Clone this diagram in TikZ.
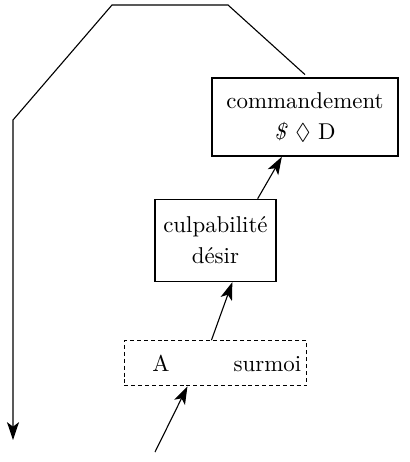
\documentclass[tikz,border=0pt]{standalone}
\usepackage{amssymb}
\usetikzlibrary{arrows.meta,positioning}

\begin{document}
\begin{tikzpicture}[
  x=0.45pt,y=-0.45pt,
  every node/.style={align=center,font={\fontsize{10.3}{14}\selectfont}},
  box/.style={draw,line width=0.65pt,inner sep=0pt},
  dashbox/.style={draw,line width=0.5pt,inner sep=0pt,
    dash pattern=on 1.8pt off 1.3pt},
  pointer/.style={-{Stealth[length=8pt,width=5.4pt,inset=2pt]},line width=0.5pt}
]
  \useasboundingbox (0,0) rectangle (409,462);

  \node[box,minimum width=83.7pt,minimum height=35.1pt] (comm) at (305,117)
    {commandement\\\textit{\$} $\lozenge$ D};
  \node[box,minimum width=54.5pt,minimum height=36.9pt,
    below=18.9pt of comm,xshift=-40.3pt] (culp) {culpabilité\\désir};
  \node[dashbox,minimum width=81.9pt,minimum height=20.3pt,
    below=26.1pt of culp] (moi) {\hspace{1em}A\hspace{2.8em}surmoi};

  % the long way round
  \coordinate (topr) at (228,5);
  \coordinate (topl) at (112,5);
  \coordinate (bend) at (13,120);
  \coordinate (down) at (13,440);
  \coordinate (src) at (155,452);
  \draw[pointer] ([yshift=1.2pt]comm.north) -- (topr) -- (topl) -- (bend) -- (down);

  \draw[pointer] (src) -- ([xshift=-12.6pt]moi.south);
  \draw[pointer] ([xshift=-1.8pt]moi.north) -- ([xshift=7.6pt]culp.south);
  \draw[pointer] ([xshift=19pt]culp.north) -- ([xshift=-10.4pt]comm.south);
\end{tikzpicture}
\end{document}
